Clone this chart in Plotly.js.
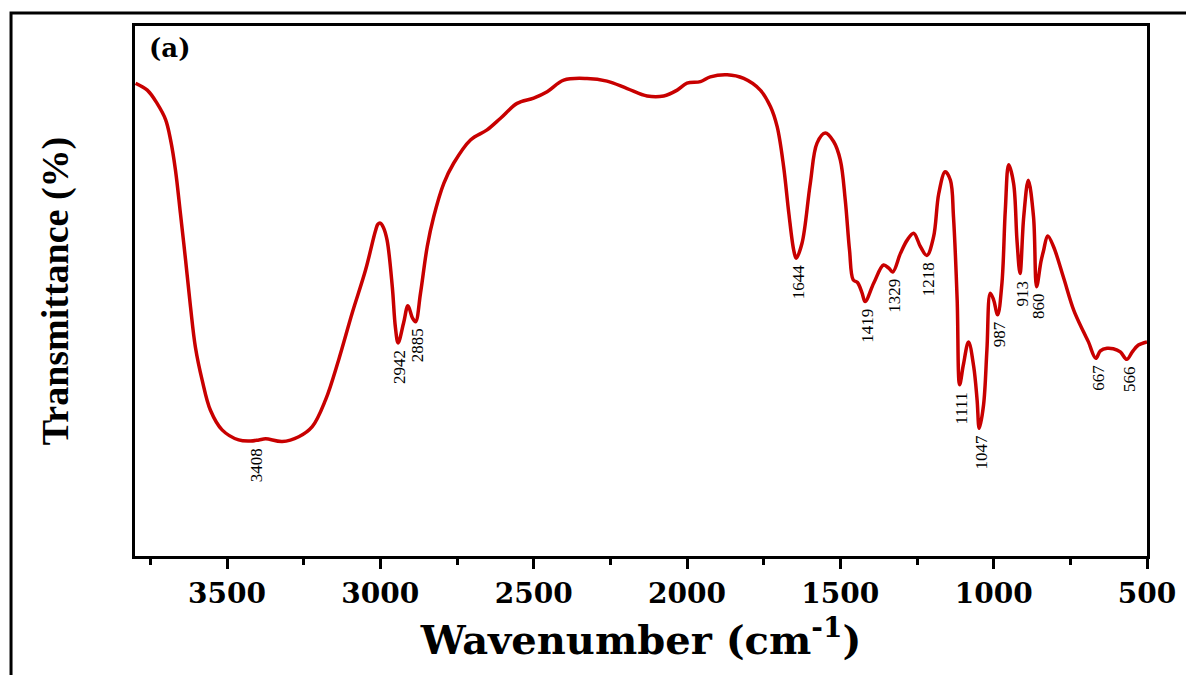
<!DOCTYPE html>
<html>
<head>
<meta charset="utf-8">
<script src="https://cdn.plot.ly/plotly-3.0.1.min.js"></script>
<style>html,body{margin:0;padding:0;background:#fff;}</style>
</head>
<body>
<div id="chart" style="width:1186px;height:675px;"></div>
<script>
// FTIR spectrum, wavenumber (cm-1) and transmittance (arbitrary %)
const wavenumber = [3798, 3760, 3728, 3700, 3684, 3668, 3652, 3635, 3619, 3603, 3581, 3554, 3516, 3462,
  3423, 3396, 3374, 3320, 3266, 3222, 3179, 3136, 3092, 3048, 3016, 3008, 3000, 2990, 2978, 2961, 2951, 2942,
  2924, 2910, 2895, 2885, 2869, 2847, 2826, 2793, 2761, 2706, 2652, 2608, 2554, 2500, 2456, 2402,
  2326, 2261, 2195, 2130, 2076, 2032, 2000, 1956, 1924, 1869, 1815, 1761, 1728, 1706, 1685, 1668,
  1652, 1644, 1625, 1598, 1576, 1549, 1522, 1500, 1484, 1470, 1458, 1444, 1429, 1419, 1391, 1359,
  1342, 1329, 1304, 1282, 1261, 1239, 1218, 1196, 1179, 1158, 1141, 1131, 1119, 1111, 1099, 1082,
  1065, 1054, 1047, 1033, 1022, 1011, 1000, 987, 973, 962, 951, 935, 924, 914, 902, 887, 870, 860,
  846, 837, 824, 805, 772, 739, 707, 691, 667, 652, 630, 610, 587, 566, 548, 528, 500];
const transmittance = [89.2, 87.9, 85.4, 82.3, 78.5, 72.8, 64.7, 55.8, 47.0, 39.4, 33.2, 27.5, 23.8, 21.9,
  21.7, 21.9, 22.1, 21.6, 22.5, 24.4, 29.4, 37.0, 45.8, 54.0, 61.3, 62.6, 62.8, 62.0, 59.6, 50.8, 43.2, 40.2,
  44.0, 47.2, 44.9, 44.2, 49.6, 58.4, 64.0, 70.3, 74.1, 78.5, 80.4, 82.6, 85.4, 86.4, 87.6, 89.8,
  90.1, 89.6, 88.2, 86.8, 86.8, 87.9, 89.2, 89.5, 90.4, 90.8, 90.1, 87.9, 84.8, 81.0, 73.5, 64.7,
  57.7, 56.2, 59.0, 70.3, 77.9, 79.8, 78.2, 74.7, 67.2, 57.7, 52.1, 51.6, 49.6, 48.0, 51.5, 54.9,
  54.3, 53.6, 57.1, 59.6, 60.9, 58.4, 56.7, 60.2, 68.4, 72.5, 70.9, 64.0, 48.3, 32.3, 36.0, 40.4,
  35.7, 29.4, 24.1, 28.5, 38.9, 49.6, 48.3, 45.5, 51.5, 65.3, 73.8, 70.3, 59.6, 53.3, 64.0, 70.9, 64.0, 50.8,
  55.5, 57.7, 60.4, 58.4, 52.5, 46.4, 42.3, 40.4, 37.3, 38.7, 39.2, 39.1, 38.5, 37.1, 38.5, 39.8, 40.4];
const peakLabels = [3408, 2942, 2885, 1644, 1419, 1329, 1218, 1111, 1047, 987, 913, 860, 667, 566];
const xTickValues = [3500, 3000, 2500, 2000, 1500, 1000, 500];
const xTickText = ['3500', '3000', '2500', '2000', '1500', '1000', '500'];
const panelLabel = '(a)';

function minNear(wn) {
  let best = null;
  for (let i = 0; i < wavenumber.length; i++) {
    if (Math.abs(wavenumber[i] - wn) <= 15) {
      if (best === null || transmittance[i] < best) best = transmittance[i];
    }
  }
  return best;
}

const labelFont = {family: 'Liberation Serif', size: 17, color: '#000'};
const annotations = peakLabels.map(p => {
  const txt = String(p);
  const half = txt.length * 0.5 * labelFont.size / 2;
  return {
    x: p, y: minNear(p), xref: 'x', yref: 'y', text: txt, showarrow: false,
    textangle: -90, xanchor: 'center', yanchor: 'middle',
    xshift: 2, yshift: -(7 + half), font: labelFont
  };
});
annotations.push({
  x: 0.012, y: 0.958, xref: 'paper', yref: 'paper', text: panelLabel, showarrow: false,
  xanchor: 'left', yanchor: 'middle',
  font: {family: 'DejaVu Serif', size: 26, weight: 'bold', color: '#000'}
});

const trace = {
  x: wavenumber, y: transmittance, type: 'scatter', mode: 'lines',
  line: {color: '#C80000', width: 3.5, shape: 'spline', smoothing: 1},
  hoverinfo: 'skip'
};

const layout = {
  width: 1186, height: 675,
  margin: {l: 135, r: 39, t: 26, b: 119},
  paper_bgcolor: '#fff', plot_bgcolor: '#fff',
  showlegend: false,
  xaxis: {
    range: [3800, 500], tickvals: xTickValues, ticktext: xTickText,
    ticks: 'outside', ticklen: 10, tickwidth: 3, tickcolor: '#000',
    minor: {dtick: 250, tick0: 0, ticks: 'outside', ticklen: 6, tickwidth: 3, tickcolor: '#000', showgrid: false},
    showline: true, linewidth: 3, linecolor: '#000', mirror: true,
    showgrid: false, zeroline: false,
    tickfont: {family: 'DejaVu Serif', size: 28, weight: 'bold', color: '#000'},
    title: {text: 'Wavenumber (cm<sup>-1</sup>)', standoff: 18,
      font: {family: 'DejaVu Serif', size: 40, weight: 'bold', color: '#000'}}
  },
  yaxis: {
    range: [0, 100], showticklabels: false, ticks: '',
    showline: true, linewidth: 3, linecolor: '#000', mirror: true,
    showgrid: false, zeroline: false,
    title: {text: 'Transmittance (%)', standoff: 52,
      font: {family: 'Liberation Serif', size: 38, weight: 'bold', color: '#000'}}
  },
  annotations: annotations,
  shapes: [{
    type: 'rect', xref: 'paper', yref: 'paper',
    x0: -0.1225, x1: 1.06, y0: -0.26, y1: 1.0245,
    line: {color: '#000', width: 3}, fillcolor: 'rgba(0,0,0,0)', layer: 'above'
  }]
};

Plotly.newPlot('chart', [trace], layout, {displayModeBar: false, staticPlot: true});
</script>
</body>
</html>
